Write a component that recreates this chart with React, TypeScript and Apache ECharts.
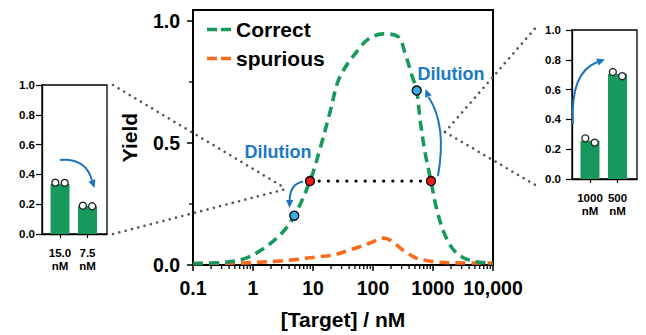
import React, { useEffect, useRef } from 'react';
import * as echarts from 'echarts';

// ---------- data ----------
const correctX = [0.1, 0.3, 0.68, 1.31, 2.82, 4.88, 8.9, 13.1, 19.2, 28, 60, 89, 148, 263, 341, 441, 535, 607, 736, 926, 1150, 1585, 2460, 4680, 10000];
const correctY = [0.006, 0.01, 0.024, 0.058, 0.123, 0.202, 0.344, 0.476, 0.626, 0.77, 0.89, 0.93, 0.947, 0.936, 0.87, 0.78, 0.715, 0.598, 0.462, 0.344, 0.23, 0.123, 0.049, 0.015, 0.008];
const spuriousX = [0.1, 0.5, 1, 3, 5, 11.5, 23, 41, 60, 100, 150, 200, 300, 414, 535, 926, 2000, 10000];
const spuriousY = [0.006, 0.008, 0.01, 0.017, 0.022, 0.033, 0.042, 0.062, 0.075, 0.095, 0.11, 0.1, 0.065, 0.042, 0.028, 0.015, 0.009, 0.008];
const redX = [8.9, 926];
const redY = [0.344, 0.344];
const blueX = [4.88, 535];
const blueY = [0.202, 0.715];

const mainXTicks = [0.1, 1, 10, 100, 1000, 10000];
const mainXTickLabels = ['0.1', '1', '10', '100', '1000', '10,000'];
const mainYTicks = [0, 0.5, 1];
const logDecades = [0.1, 1, 10, 100, 1000];
const logFactors = [2, 3, 4, 5, 6, 7, 8, 9];
const yMinorTicks = [0.25, 0.75];

const leftCats = ['15.0\nnM', '7.5\nnM'];
const leftBars = [0.336, 0.188];
const leftReps = [[0.345, 0.343], [0.19, 0.186]];
const rightCats = ['1000\nnM', '500\nnM'];
const rightBars = [0.257, 0.705];
const rightReps = [[0.273, 0.244], [0.718, 0.69]];

// ---------- styles ----------
const FONT = "'Liberation Sans', Arial, Helvetica, sans-serif";
const GREEN = '#17995d';
const ORANGE = '#fb6b1c';
const BLUE_TXT = '#1a78c4';
const ARROW = '#1a74c0';
const REP_OFF = 0.17;
const DASH_ICON = 'path://M0,0H10V3.6H0Z M14,0H24V3.6H14Z';

function arrowHead(tipX: number, tipY: number, fromX: number, fromY: number, len = 8, halfW = 3.6) {
  const dx = tipX - fromX;
  const dy = tipY - fromY;
  const d = Math.sqrt(dx * dx + dy * dy) || 1;
  const ux = dx / d, uy = dy / d;
  const bx = tipX - ux * len, by = tipY - uy * len;
  return {
    type: 'polygon',
    shape: { points: [[tipX, tipY], [bx - uy * halfW, by + ux * halfW], [bx + uy * halfW, by - ux * halfW]] },
    style: { fill: ARROW, stroke: 'none' },
    z: 100,
  };
}

function curve(x1: number, y1: number, cx: number, cy: number, x2: number, y2: number) {
  return {
    type: 'bezierCurve',
    shape: { x1, y1, cpx1: cx, cpy1: cy, x2, y2 },
    style: { stroke: ARROW, lineWidth: 2, fill: 'none' },
    z: 100,
  };
}

function dotted(x1: number, y1: number, x2: number, y2: number) {
  return {
    type: 'line',
    shape: { x1, y1, x2, y2 },
    style: { stroke: '#555', lineWidth: 2.6, lineDash: [0.01, 6.5], lineCap: 'round' },
    z: 100,
  };
}

function insetAxes(grid: number, cats: string[], labelMargin: number) {
  const x = {
    gridIndex: grid,
    type: 'value',
    min: -0.655,
    max: 1.709,
    axisLine: { onZero: false, lineStyle: { color: '#000', width: 1.3 } },
    axisTick: { customValues: [0, 1], length: 4, lineStyle: { color: '#000', width: 1.2 } },
    splitLine: { show: false },
    axisLabel: {
      customValues: [0, 1],
      formatter: (v: number) => cats[Math.round(v)],
      color: '#000', fontSize: 11.5, fontWeight: 'bold', fontFamily: FONT, lineHeight: 12.5, margin: 13,
    },
  };
  const y = {
    gridIndex: grid,
    type: 'value',
    min: 0, max: 1, interval: 0.2,
    axisLine: { show: true, onZero: false, lineStyle: { color: '#000', width: 1.3 } },
    axisTick: { show: true, length: 6, lineStyle: { color: '#000', width: 1.2 } },
    splitLine: { show: false },
    axisLabel: {
      formatter: (v: number) => v.toFixed(1),
      color: '#000', fontSize: 11.5, fontWeight: 'bold', fontFamily: FONT, margin: labelMargin,
    },
  };
  return { x, y };
}

export default function App() {
  const ref = useRef<HTMLDivElement>(null);
  useEffect(() => {
    if (!ref.current) return;
    const chart = echarts.init(ref.current, undefined, { renderer: 'svg' });

    const xMinor: number[][] = [];
    logDecades.forEach((d) => logFactors.forEach((f) => xMinor.push([d * f, 0])));

    const L = insetAxes(1, leftCats, 7);
    const R = insetAxes(2, rightCats, 11);

    const option: any = {
      animation: false,
      backgroundColor: '#fff',
      legend: {
        left: 202, top: 14, orient: 'vertical',
        itemWidth: 24, itemHeight: 3.6, itemGap: 8,
        selectedMode: false,
        data: [
          { name: 'Correct', icon: DASH_ICON, itemStyle: { color: GREEN } },
          { name: 'spurious', icon: DASH_ICON, itemStyle: { color: ORANGE } },
        ],
        textStyle: { fontSize: 21, fontWeight: 'bold', color: '#000', fontFamily: FONT, lineHeight: 21 },
      },
      grid: [
        { left: 193, top: 10, width: 300, height: 257, show: true, borderColor: '#000', borderWidth: 2 },
        { left: 42, top: 85, width: 65, height: 149, show: true, borderColor: '#000', borderWidth: 1.3 },
        { left: 572, top: 30, width: 65, height: 149, show: true, borderColor: '#000', borderWidth: 1.3 },
      ],
      xAxis: [
        {
          gridIndex: 0, type: 'log', logBase: 10, min: 0.1, max: 10000,
          axisLine: { onZero: false, lineStyle: { color: '#000', width: 2 } },
          axisTick: { length: 6, lineStyle: { color: '#000', width: 1.5 } },
          minorTick: { show: false },
          splitLine: { show: false },
          axisLabel: {
            color: '#000', fontSize: 19.5, fontWeight: 'bold', fontFamily: FONT, margin: 13,
            formatter: (v: number) => {
              let best = 0;
              mainXTicks.forEach((t, i) => { if (Math.abs(Math.log10(t) - Math.log10(v)) < Math.abs(Math.log10(mainXTicks[best]) - Math.log10(v))) best = i; });
              return mainXTickLabels[best];
            },
          },
          name: '[Target] / nM', nameLocation: 'middle', nameGap: 44,
          nameTextStyle: { color: '#000', fontSize: 21, fontWeight: 'bold', fontFamily: FONT },
        },
        L.x, R.x,
      ],
      yAxis: [
        {
          gridIndex: 0, type: 'value', min: 0, max: 1.045,
          axisLine: { show: true, onZero: false, lineStyle: { color: '#000', width: 2 } },
          axisTick: { show: true, customValues: mainYTicks, length: 6, lineStyle: { color: '#000', width: 1.5 } },
          splitLine: { show: false },
          axisLabel: {
            customValues: mainYTicks,
            formatter: (v: number) => v.toFixed(1),
            color: '#000', fontSize: 19.5, fontWeight: 'bold', fontFamily: FONT, margin: 13,
          },
          name: 'Yield', nameLocation: 'middle', nameGap: 53, nameRotate: 90,
          nameTextStyle: { color: '#000', fontSize: 21, fontWeight: 'bold', fontFamily: FONT },
        },
        L.y, R.y,
      ],
      series: [
        {
          name: 'Correct', type: 'line', xAxisIndex: 0, yAxisIndex: 0, smooth: 0.35, symbol: 'none',
          data: correctX.map((x, i) => [x, correctY[i]]),
          lineStyle: { color: GREEN, width: 3.6, type: [10, 6] },
          itemStyle: { color: GREEN }, z: 3,
        },
        {
          name: 'spurious', type: 'line', xAxisIndex: 0, yAxisIndex: 0, smooth: 0.35, symbol: 'none',
          data: spuriousX.map((x, i) => [x, spuriousY[i]]),
          lineStyle: { color: ORANGE, width: 3.6, type: [10, 6] },
          itemStyle: { color: ORANGE }, z: 2,
        },
        {
          name: 'link', type: 'line', xAxisIndex: 0, yAxisIndex: 0, symbol: 'none',
          data: redX.map((x, i) => [x, redY[i]]),
          lineStyle: { color: '#000', width: 3.3, type: [0.01, 9.2], cap: 'round' }, z: 4,
        },
        {
          name: 'red', type: 'scatter', xAxisIndex: 0, yAxisIndex: 0, symbolSize: 9,
          data: redX.map((x, i) => [x, redY[i]]),
          itemStyle: { color: '#ee1c1c', borderColor: '#000', borderWidth: 1.3, opacity: 1 }, z: 6,
        },
        {
          name: 'blue', type: 'scatter', xAxisIndex: 0, yAxisIndex: 0, symbolSize: 9,
          data: blueX.map((x, i) => [x, blueY[i]]),
          itemStyle: { color: '#3cb0e4', borderColor: '#000', borderWidth: 1.3, opacity: 1 }, z: 6,
        },
        {
          name: 'xminor', type: 'custom', xAxisIndex: 0, yAxisIndex: 0, silent: true,
          data: xMinor,
          renderItem: (params: any, api: any) => {
            const p = api.coord([api.value(0), 0]);
            return { type: 'line', shape: { x1: p[0], y1: p[1], x2: p[0], y2: p[1] + 4 }, style: { stroke: '#000', lineWidth: 1.3 } };
          },
        },
        {
          name: 'yminor', type: 'custom', xAxisIndex: 0, yAxisIndex: 0, silent: true,
          data: yMinorTicks.map((v) => [0.1, v]),
          renderItem: (params: any, api: any) => {
            const p = api.coord([0.1, api.value(1)]);
            return { type: 'line', shape: { x1: p[0] - 4, y1: p[1], x2: p[0], y2: p[1] }, style: { stroke: '#000', lineWidth: 1.3 } };
          },
        },
        {
          name: 'leftBars', type: 'bar', xAxisIndex: 1, yAxisIndex: 1, barWidth: 19,
          data: leftBars.map((v, i) => [i, v]), itemStyle: { color: GREEN },
        },
        {
          name: 'leftReps', type: 'scatter', xAxisIndex: 1, yAxisIndex: 1, symbolSize: 7,
          data: leftReps.flatMap((r, i) => [[i - REP_OFF, r[0]], [i + REP_OFF, r[1]]]),
          itemStyle: { color: '#fff', borderColor: '#222', borderWidth: 1.3, opacity: 1 }, z: 5,
        },
        {
          name: 'rightBars', type: 'bar', xAxisIndex: 2, yAxisIndex: 2, barWidth: 19,
          data: rightBars.map((v, i) => [i, v]), itemStyle: { color: GREEN },
        },
        {
          name: 'rightReps', type: 'scatter', xAxisIndex: 2, yAxisIndex: 2, symbolSize: 7,
          data: rightReps.flatMap((r, i) => [[i - REP_OFF, r[0]], [i + REP_OFF, r[1]]]),
          itemStyle: { color: '#fff', borderColor: '#222', borderWidth: 1.3, opacity: 1 }, z: 5,
        },
      ],
      graphic: [
        dotted(113, 85, 285, 188),
        dotted(113, 234, 286, 189),
        dotted(445, 132, 538, 25),
        dotted(445, 132, 537, 186),
        curve(303, 181.5, 290, 184, 289.7, 200),
        arrowHead(289.5, 208, 289.7, 200),
        curve(438, 176, 447, 125, 428.5, 97),
        arrowHead(425.5, 89, 428.5, 97),
        curve(60, 160, 86, 158, 92, 180.5),
        arrowHead(94.5, 188, 92, 180.5),
        curve(573, 124, 570, 72, 597.5, 62),
        arrowHead(605, 59.5, 597.5, 62),
        {
          type: 'text', x: 278, y: 151.5, z: 100,
          style: { text: 'Dilution', fill: BLUE_TXT, font: `bold 18px ${FONT}`, textAlign: 'center', textVerticalAlign: 'middle' },
        },
        {
          type: 'text', x: 451, y: 73.5, z: 100,
          style: { text: 'Dilution', fill: BLUE_TXT, font: `bold 18px ${FONT}`, textAlign: 'center', textVerticalAlign: 'middle' },
        },
      ],
    };
    chart.setOption(option);
    return () => chart.dispose();
  }, []);
  return <div ref={ref} style={{ position: 'absolute', left: 0, top: 0, width: 646, height: 335 }} />;
}
